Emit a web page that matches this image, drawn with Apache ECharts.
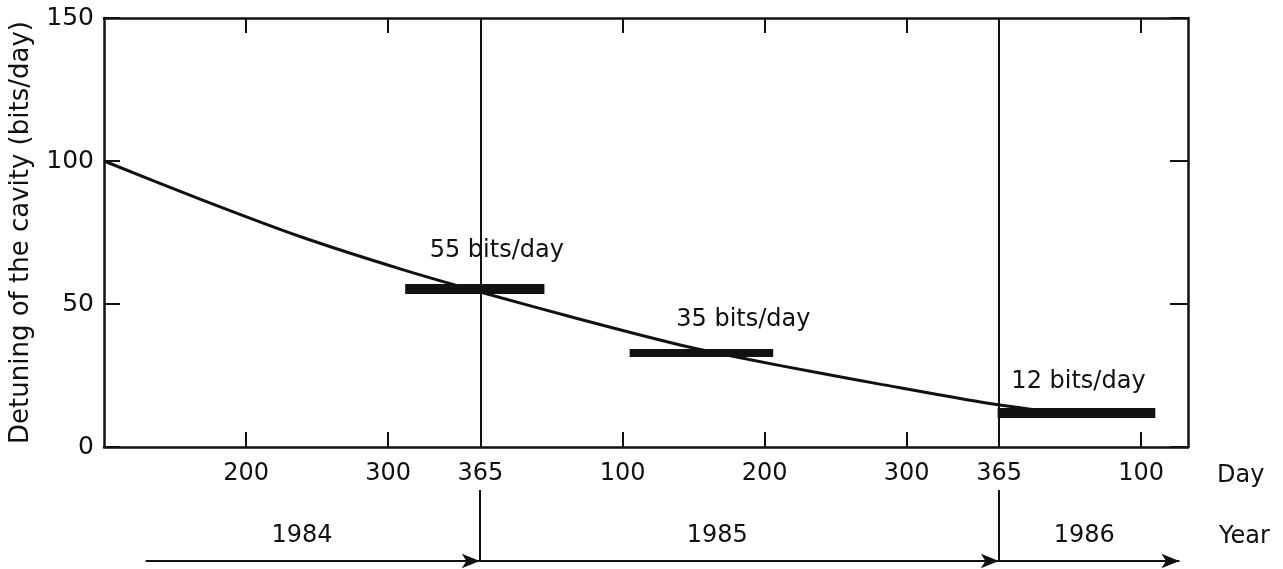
<!DOCTYPE html>
<html>
<head>
<meta charset="utf-8">
<script src="https://cdn.jsdelivr.net/npm/echarts@6/dist/echarts.min.js"></script>
<style>
html,body{margin:0;padding:0;background:#fff;}
#c{width:1283px;height:569px;}
</style>
</head>
<body>
<div id="c"></div>
<script>
// ---- data (x = running day count from 1 Jan 1984) ----
var curveDays   = [100, 168, 238, 309, 366, 437, 507, 554, 600, 647, 717, 774];
var curveValues = [100, 86.6, 73.6, 62.2, 54, 44.4, 35.5, 30.6, 26.2, 21.9, 15.7, 11.6];

var rateLabels = [55, 35, 12];          // bits/day annotations
var rateLevels = [55.5, 33, 12];        // drawn level of each rate bar
var rateStart  = [312, 470, 729];
var rateEnd    = [410, 571, 840];

var yearBoundaries = [365, 730];
var dayTickValues  = [200, 300, 465, 565, 665, 830];
var dayLabelValues = [200, 300, 365, 465, 565, 665, 730, 830];

var yearLabels    = ['1984', '1985', '1986'];
var yearLabelDays = [240, 532, 790];
var yearStart     = [130, 365, 730];
var yearEnd       = [365, 730, 857];

var xMin = 100, xMax = 863;

// ---- build ----
var INK = '#111';
var FONT = 'DejaVu Sans';

function dayLabel(v){
  if (v > 730) return String(v - 730);
  if (v > 365) return String(v - 365);
  return String(v);
}

var curveData = curveDays.map(function(d,i){ return [d, curveValues[i]]; });

var labelOffsets = [[22,-21],[42,-16],[2,-14]];
var barWidths = [10, 8, 10];
var rateMarks = rateLabels.map(function(r,i){
  return [
    {coord:[rateStart[i], rateLevels[i]],
     lineStyle:{width:barWidths[i], color:INK, type:'solid', cap:'butt'},
     label:{show:true, position:'insideMiddleTop', formatter: r + ' bits/day',
            offset: labelOffsets[i], color:INK, fontSize:24, fontFamily:FONT}},
    {coord:[rateEnd[i], rateLevels[i]]}
  ];
});

var boundaryMarks = yearBoundaries.map(function(d){ return {xAxis:d}; });

var arrowMarks = yearStart.map(function(s,i){
  return [{coord:[s,0]},{coord:[yearEnd[i],0]}];
});
var lowerBoundaryMarks = yearBoundaries.map(function(d){
  return [{coord:[d,0], symbol:'none'},{coord:[d,1], symbol:'none'}];
});

var option = {
  backgroundColor:'#fff',
  animation:false,
  grid:[
    {left:103, right:95, top:18, bottom:122},
    {left:103, right:95, top:490, bottom:8}
  ],
  xAxis:[
    {type:'value', gridIndex:0, min:xMin, max:xMax, position:'bottom',
     name:'Day', nameLocation:'end', nameGap:29,
     nameTextStyle:{color:INK, fontSize:24, fontFamily:FONT, verticalAlign:'top', lineHeight:58},
     axisLine:{show:true, lineStyle:{color:INK, width:2.5}},
     axisTick:{show:true, inside:true, length:15, customValues:dayTickValues, lineStyle:{color:INK, width:2}},
     axisLabel:{show:true, customValues:dayLabelValues, formatter:dayLabel, color:INK, fontSize:24, fontFamily:FONT, margin:15},
     splitLine:{show:false}},
    {type:'value', gridIndex:0, min:xMin, max:xMax, position:'top',
     axisLine:{show:true, onZero:false, lineStyle:{color:INK, width:2.5}},
     axisTick:{show:true, inside:true, length:15, customValues:dayTickValues, lineStyle:{color:INK, width:2}},
     axisLabel:{show:false},
     splitLine:{show:false}},
    {type:'value', gridIndex:1, min:xMin, max:xMax,
     name:'Year', nameLocation:'end', nameGap:31,
     nameTextStyle:{color:INK, fontSize:24, fontFamily:FONT, verticalAlign:'bottom', lineHeight:48},
     axisLine:{show:false}, axisTick:{show:false}, axisLabel:{show:false}, splitLine:{show:false}}
  ],
  yAxis:[
    {type:'value', gridIndex:0, min:0, max:150, interval:50, position:'left',
     name:'Detuning of the cavity (bits/day)', nameLocation:'middle', nameGap:70, nameRotate:90,
     nameTextStyle:{color:INK, fontSize:26, fontFamily:FONT},
     axisLine:{show:true, lineStyle:{color:INK, width:2.5}},
     axisTick:{show:true, inside:true, length:16, lineStyle:{color:INK, width:2}},
     axisLabel:{color:INK, fontSize:25, fontFamily:FONT, margin:10},
     splitLine:{show:false}},
    {type:'value', gridIndex:0, min:0, max:150, interval:50, position:'right',
     axisLine:{show:true, onZero:false, lineStyle:{color:INK, width:2.5}},
     axisTick:{show:true, inside:true, length:18, lineStyle:{color:INK, width:2}},
     axisLabel:{show:false},
     splitLine:{show:false}},
    {type:'value', gridIndex:1, min:0, max:1, show:false}
  ],
  series:[
    {type:'line', name:'curve', xAxisIndex:0, yAxisIndex:0, data:curveData,
     smooth:0.25, symbol:'none', lineStyle:{color:INK, width:3}, clip:false,
     markLine:{silent:true, symbol:'none', animation:false,
       lineStyle:{color:INK, width:2, type:'solid'}, label:{show:false},
       data:boundaryMarks}},
    {type:'line', name:'rates', xAxisIndex:0, yAxisIndex:0, data:[], clip:false,
     markLine:{silent:true, symbol:'none', animation:false, data:rateMarks}},
    {type:'scatter', name:'years', xAxisIndex:2, yAxisIndex:2, clip:false,
     data:yearLabelDays.map(function(d){ return [d, 0.35]; }),
     symbolSize:1, itemStyle:{color:'rgba(0,0,0,0)', opacity:1},
     label:{show:true, position:'inside', color:INK, fontSize:24, fontFamily:FONT,
            formatter:function(p){ return yearLabels[p.dataIndex]; }},
     markLine:{silent:true, animation:false, symbol:['none','arrow'], symbolSize:[11,18],
       lineStyle:{color:INK, width:2, type:'solid', opacity:1}, label:{show:false},
       data: arrowMarks.concat(lowerBoundaryMarks)}}
  ]
};

var chart = echarts.init(document.getElementById('c'), null, {renderer:'canvas'});
chart.setOption(option);
</script>
</body>
</html>
